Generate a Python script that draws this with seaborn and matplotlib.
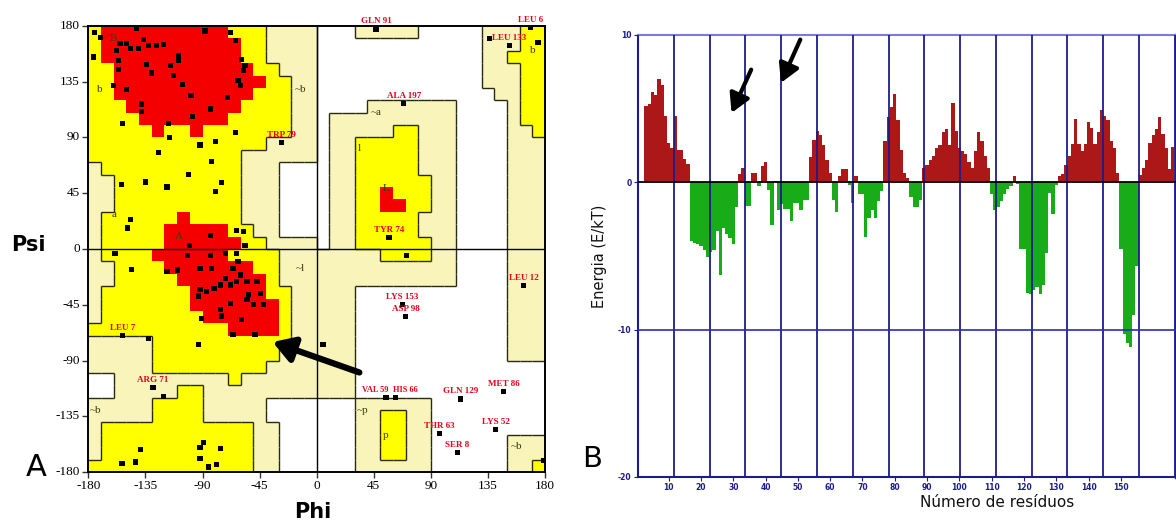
import numpy as np
import pandas as pd
import seaborn as sns
import matplotlib.pyplot as plt
from matplotlib.colors import ListedColormap
from matplotlib.collections import LineCollection
from matplotlib.ticker import MultipleLocator

# Ramachandran region map, 10 degree cells
# rows go psi 180 -> -180, columns phi -180 -> 180
# W disallowed, L generous, Y allowed, R core
region_rows = [
    "YRRRRRRRRRRYYYLLLLWWWLLLLLWWWWWLLLYY",
    "YRRRRRRRRRRRYYLLLLWWWWWWWWWWWWWLLLYY",
    "YRRRRRRRRRRRYYLLLLWWWWWWWWWWWWWLLYYY",
    "YYRRRRRRRRRRRYYLLLWWWWWWWWWWWWWLLLYY",
    "YYRRRRRRRRRRRRYYLLWWWWWWWWWWWWWLLLYY",
    "YYRRRRRRRRRRRYYYLLWWWWWWWWWWWWWWLLYY",
    "YYYRRRRRRRRRYYYYLLWWWWLLLLLLLWWWWLYY",
    "YYYYRRRRRRRYYYYYLLWLLLLLLLLLLWWWWLYY",
    "YYYYYRYYRYYYYYYYLLWLLLLLYYLLLWWWWLLY",
    "YYYYYYYYYYYYYYLLLLWLLYYYYYLLLWWWWLLL",
    "YYYYYYYYYYYYLLLLLLWLLYYYYYLLLWWWWLLL",
    "LYYYYYYYYYYYLLLWWWWLLYYYYYLLLWWWWLLL",
    "LLYYYYYYYYYYLLLWWWWLLYYYYYYLLWWWWLLL",
    "LLYYYYYYYYYYLLLWWWWLLYYRYYYLLWWWWLLL",
    "LLYYYYYYYYYYLLLWWWWLLYYRRYYLLWWWWLLL",
    "LYYYYYYRYYYYLLLWWWWLLYYYYYLLLWWWWLLL",
    "LYYYYYRRRRRYYLLWWWWLLYYYYYLLLWWWWLLL",
    "LYYYYYRRRRRRYYLLLLWLLYYYYYYLLWWWWLLL",
    "LYYYYRRRRRRYYYYLLLLLLLLYYYYLLWWWWLLL",
    "LLYYYYRRRRRRRYYLLLLLLLLLLLLLLWWWWLLL",
    "LLYYYYYRRRRRRRYLLLLLLLLLLLLLLWWWWLLL",
    "LYYYYYYYRRRRRRYYLLLLLWWWWWWWWWWWWLLL",
    "LYYYYYYYRRRRRRRYLLLLLWWWWWWWWWWWWLLL",
    "LYYYYYYYYRRRRRRYLLLLLWWWWWWWWWWWWLLL",
    "YYYYYYYYYYYRRRRYLLLLLWWWWWWWWWWWWLLL",
    "LLLLLYYYYYYYYYYYLLLLLWWWWWWWWWWWWLLL",
    "LLLLLYYYYYYYYYYLLLLLLWWWWWWWWWWWWLLL",
    "LLLLLYYYYYYYYYLLLLLLLWWWWWWWWWWWWWWW",
    "WWLLLLLLLLLYLLLLLLLLLWWWWWWWWWWWWWWW",
    "WWLLLLLYYLLLLLLLLLLLLWWWWWWWWWWWWWWW",
    "LLLLLYYYYLLLLLWWWWWWWLLLLLLWWWWWWWWW",
    "LLLLLYYYYLLLLLWWWWWWWLLYYLLWWWWWWWWW",
    "LYYYYYYYYYYYYLLWWWWWWLLYYLLWWWWWWWWW",
    "LYYYYYYYYYYYYLLWWWWWWLLYYLLWWWWWWLLL",
    "LYYYYYYYYYYYYLLWWWWWWLLYYLLWWWWWWLLL",
    "YYYYYYYYYYYYYLLWWWWWWLLLLLLWWWWWWLLY",
]

# residues without a label
phi = [-175, -170.6, -176, -142, -88, -68, -64, -59, -56.5, -58, -62, -60, -70, -84,
       -98, -99, -106, -113, -115.5, -109, -109, -121, -126, -136.5, -132.6, -140.5,
       -147, -149.6, -155, -157.5, -156, -156, -160, -149.6, -134, -130, -138, -138,
       -117, -116, -153, -125, -92, -80, -64, -83, -101, -75, -80, -118, -135, -154,
       -147, -149, -84, -63, -58, -56.5, -100, -159,
       -146, -118, -110, -102, -92, -83, -84, -72, -63, -62, -66, -60, -63, -72, -76,
       -81, -92, -93, -87, -68, -55, -47, -44.6, -54, -55, -50, -42, -68, -76, -90.5,
       -75, -59, -66, -48.6, -132.6, -93, -121, -139, -153.5, -143, -89, -92, -76,
       -92, -79, -85,
       136.5, 174.5, 71, 5, 179]
psi = [175, 171, 155, 178, 176, 175, 168, 153, 148, 144, 136, 132, 122, 113,
       107, 124, 133, 140, 148, 156, 152, 165, 164, 169, 164, 162,
       161.6, 166, 166, 160, 152, 145, 132, 129, 149, 142, 117, 111,
       101, 90, 101, 78, 84, 86.6, 94, 70.5, 60, 53.4, 46.7, 50, 54, 52,
       24, 17, 11, 15, 14, 3, 3, -3.6,
       -16.5, -18, -17, -5, -15.7, -15.7, -5, -3.6, -3.6, -10, -15.7, -21, -26, -24, -29,
       -32, -33, -38, -34, -29, -26, -26, -36, -37, -41, -45, -45, -44, -49, -56,
       -54, -57, -69, -69, -72, -77, -119, -162, -173, -172, -156, -160, -161,
       -169, -174, -176,
       169.6, 167, -5, -77, -171]

# labelled residues
lab_phi = [46.7, 168.5, 152, 68.7, -27.6, 57, 67.7, 70.3, 163, 54.6, 62.4,
           113.6, 147.5, 141, 96.6, 111, -153, -129]
lab_psi = [177.6, 179, 164, 117.7, 86, 9.2, -44.6, -54.5, -29.6, -120, -120,
           -121, -115, -145.5, -149, -164, -70, -112]
lab_txt = ["GLN 91", "LEU 6", "LEU 133", "ALA 197", "TRP 79", "TYR 74", "LYS 153",
           "ASP 98", "LEU 12", "VAL 59", "HIS 66", "GLN 129", "MET 86", "LYS 52",
           "THR 63", "SER 8", "LEU 7", "ARG 71"]
# horizontal anchor of each label (VAL / HIS sit side by side)
lab_ha = ["center"] * 9 + ["right", "left"] + ["center"] * 7

# region letters
reg_phi = [-160, -170.6, -109, -159.5, 54.6, 34, 54.6, 36, 157.5, -174.6, -13, 47, -13, 170]
reg_psi = [170, 129, 10, 27.7, 48.6, 81, -150.6, -130.5, -159.5, -130.5, 129, 110, -16, 160]
reg_txt = ["B", "b", "A", "a", "L", "l", "p", "~p", "~b", "~b", "~b", "~a", "~l", "b"]

# energy profile per residue
energy = [0, 0, 5.2, 5.3, 6.1, 5.9, 7.0, 6.6, 4.5, 2.7,
          2.3, 4.5, 2.2, 2.2, 1.6, 1.25, -4.0, -4.1, -4.2, -4.3,
          -4.6, -5.1, -4.7, -4.6, -3.3, -6.3, -3.1, -3.5, -3.8, -4.2,
          -1.7, 0.55, 0.95, -1.6, -1.6, 0.6, 0.6, -0.25, 1.1, 1.35,
          -0.5, -2.9, 0.1, -1.9, -1.5, -1.8, -1.8, -2.65, -1.4, -1.4,
          -1.9, -1.2, -1.2, 1.7, 2.9, 3.45, 3.2, 2.5, 1.5, 0.6,
          -1.2, -2.0, 0.45, 0.9, 0.9, -0.2, -1.4, 0.4, -0.8, -0.8,
          -3.7, -2.4, -1.9, -2.4, -1.3, -0.6, 2.8, 4.4, 5.1, 6.0,
          4.2, 2.2, 0.6, 0.3, -1.0, -1.7, -1.7, -1.2, 1.0, 1.2,
          1.5, 1.8, 2.3, 2.5, 3.4, 3.6, 2.5, 5.4, 3.5, 2.3,
          2.1, 1.9, 1.4, 1.0, 2.1, 3.4, 2.8, 1.8, 1.0, -0.8,
          -1.9, -1.7, -1.25, -0.8, -0.45, -0.23, 0.4, -0.1, -4.5, -4.5,
          -7.5, -7.6, -7.3, -7.1, -7.6, -7.0, -4.8, -0.7, -2.15, -0.2,
          0.45, 0.57, 1.2, 1.8, 2.6, 4.3, 2.6, 2.1, 2.6, 4.1,
          3.7, 2.6, 3.4, 4.9, 4.5, 4.2, 2.8, 2.3, 0.6, -4.5,
          -10.3, -10.9, -11.2, -9.0, -5.7, 0.5, 1.0, 1.5, 2.7, 3.2,
          3.6, 4.4, 3.3, 2.3, 0.9, 2.4]
x_ticks = [10, 20, 30, 40, 50, 60, 70, 80, 90, 100, 110, 120, 130, 140, 150]
y_ticks = [-20, -10, 0, 10]

navy = "#1c1c8c"
serif = "Liberation Serif"


def to_cell(ph, ps):
    # heatmap coords: column index from phi, row index from psi
    return (np.asarray(ph) + 180) / 10, (180 - np.asarray(ps)) / 10


fig = plt.figure(figsize=(11.76, 5.23), dpi=100)

# ---------- A: Ramachandran ----------
axA = fig.add_axes([0.0751, 0.0975, 0.3884, 0.8528])
codes = np.array([["WLYR".index(ch) for ch in row] for row in region_rows])
sns.heatmap(codes, cmap=ListedColormap(["white", "#f9f4ba", "#ffff00", "#f40000"]),
            vmin=-0.5, vmax=3.5, cbar=False, ax=axA, linewidths=0)

pairs = {frozenset("YL"), frozenset("LW"), frozenset("YW")}
segs = []
for r in range(36):
    for c in range(36):
        a = region_rows[r][c]
        if c < 35 and frozenset(a + region_rows[r][c + 1]) in pairs:
            segs.append([(c + 1, r), (c + 1, r + 1)])
        if r < 35 and frozenset(a + region_rows[r + 1][c]) in pairs:
            segs.append([(c, r + 1), (c + 1, r + 1)])
axA.add_collection(LineCollection(segs, colors="#2a2a10", linewidths=1.0))

axA.axvline(18, color="black", lw=1.0)
axA.axhline(18, color="black", lw=1.0)

hx, hy = to_cell(phi, psi)
lx, ly = to_cell(lab_phi, lab_psi)
pts = pd.DataFrame({"hx": np.concatenate([hx, lx]), "hy": np.concatenate([hy, ly])})
sns.scatterplot(data=pts, x="hx", y="hy", marker="s", s=14, color="black",
                edgecolor="none", ax=axA, zorder=4)

for x, y, t, ha in zip(lx, ly, lab_txt, lab_ha):
    dx = {"center": 0, "right": 2, "left": -2}[ha]
    axA.annotate(t, (x, y), xytext=(dx, 2.5), textcoords="offset points", ha=ha,
                 va="bottom", color="#e8001c", fontsize=6.5 if ha == "center" else 6,
                 family=serif, fontweight="bold", zorder=5)

rx, ry = to_cell(reg_phi, reg_psi)
for x, y, t in zip(rx, ry, reg_txt):
    axA.text(x, y, t, ha="center", va="center", fontsize=8, family=serif,
             color="#3a3a10", zorder=4)

ah, av = to_cell([-36.8, 35.7], [-74.3, -100.4])
axA.annotate("", xy=(ah[0], av[0]), xytext=(ah[1], av[1]),
             arrowprops=dict(arrowstyle="-|>,head_length=0.9,head_width=0.55",
                             lw=4.5, color="black", mutation_scale=14), zorder=6)

ticks = np.arange(-180, 181, 45)
axA.set_xticks((ticks + 180) / 10)
axA.set_xticklabels([str(t) for t in ticks], rotation=0)
axA.set_yticks((180 - ticks) / 10)
axA.set_yticklabels([str(t) for t in ticks], rotation=0)
axA.set_xlim(0, 36)
axA.set_ylim(36, 0)
axA.set_xlabel("")
axA.set_ylabel("")
axA.tick_params(length=4, width=1, color="#333", labelsize=9.5, pad=2)
for lab in axA.get_xticklabels() + axA.get_yticklabels():
    lab.set_family(serif)
for s in axA.spines.values():
    s.set_visible(True)
    s.set_color("black")
    s.set_linewidth(1.4)

fig.text(28 / 1176, 1 - 245 / 523, "Psi", ha="center", va="center", fontsize=15,
         fontweight="bold")
fig.text(313 / 1176, 1 - 512 / 523, "Phi", ha="center", va="center", fontsize=15,
         fontweight="bold")
fig.text(36 / 1176, 1 - 468 / 523, "A", ha="center", va="center", fontsize=22)
fig.text(592 / 1176, 1 - 459 / 523, "B", ha="center", va="center", fontsize=21)

# ---------- B: energy profile ----------
axB = fig.add_axes([0.5425, 0.088, 0.4575, 0.8451])
prof = pd.DataFrame({"residue": np.arange(1, len(energy) + 1), "energy": energy})
prof["sign"] = np.where(prof["energy"] >= 0, "pos", "neg")
sns.barplot(data=prof, x="residue", y="energy", hue="sign",
            palette={"pos": "#c40000", "neg": "#00c400"}, native_scale=True,
            dodge=False, width=1, gap=0, linewidth=0, errorbar=None, legend=False,
            ax=axB, zorder=1)
axB.set_xlim(0.5, 167.06)
axB.set_ylim(-20, 10)
axB.set_axisbelow(False)
axB.xaxis.set_minor_locator(MultipleLocator(11.08, offset=0.5))
axB.grid(which="minor", axis="x", color=navy, lw=1.3, zorder=2)
axB.axhline(0, color="black", lw=1.3, zorder=3)
axB.axhline(-10, color="#2b2bb5", lw=1.2, zorder=3)

axB.set_xticks(x_ticks)
axB.set_xticklabels([str(t) for t in x_ticks])
axB.set_yticks(y_ticks)
axB.set_yticklabels([str(t) for t in y_ticks])
axB.tick_params(which="major", length=3, color=navy, labelsize=5.5,
                labelcolor=navy, pad=1.5)
axB.tick_params(which="minor", length=0)
for lab in axB.get_xticklabels() + axB.get_yticklabels():
    lab.set_fontweight("bold")

axB.set_xlabel("Número de resíduos", fontsize=11, color="#111")
axB.xaxis.set_label_coords(0.667, -0.04)
axB.set_ylabel("Energia (E/kT)", fontsize=10.5, color="#111")
axB.yaxis.set_label_coords(-0.0576, 0.5)

axB.spines["left"].set_color(navy)
axB.spines["bottom"].set_color(navy)
axB.spines["top"].set_color("#7a7ad8")
axB.spines["right"].set_color("#3a3a70")
for s in axB.spines.values():
    s.set_linewidth(1.5)
axB.spines["right"].set_linewidth(2.5)

axB.annotate("", xy=(29.1, 4.54), xytext=(35.9, 7.82),
             arrowprops=dict(arrowstyle="-|>,head_length=0.8,head_width=0.45",
                             lw=3, color="black", mutation_scale=14), zorder=6)
axB.annotate("", xy=(44.4, 6.58), xytext=(51.1, 9.86),
             arrowprops=dict(arrowstyle="-|>,head_length=0.8,head_width=0.45",
                             lw=3, color="black", mutation_scale=14), zorder=6)

fig.savefig("out.png", dpi=100)
